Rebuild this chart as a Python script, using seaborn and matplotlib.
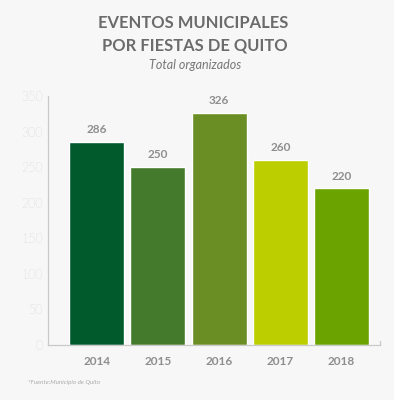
import pandas as pd
import seaborn as sns
import matplotlib.pyplot as plt

# datos
years = ["2014", "2015", "2016", "2017", "2018"]
events = [286, 250, 326, 260, 220]
colors = ["#015a2c", "#447a2b", "#6a8e23", "#bdce00", "#6ba300"]

df = pd.DataFrame({"year": years, "events": events})

sns.set_style("white")
plt.rcParams["font.family"] = ["Lato", "DejaVu Sans"]

bg = "#f7f7f7"
fig = plt.figure(figsize=(3.94, 4.0), dpi=100, facecolor=bg)
ax = fig.add_axes([0.123, 0.1375, 0.8415, 0.6225])
ax.set_facecolor(bg)

sns.barplot(data=df, x="year", y="events", hue="year", palette=colors,
            width=0.9, legend=False, saturation=1, ax=ax)

for c in ax.containers:
    ax.bar_label(c, padding=5, fontsize=8.5, fontweight="bold", color="#8e8e8e")

ax.set_ylim(0, 350)
ax.set_xlim(-0.79, 4.63)
ax.set_yticks(range(0, 351, 50))
ax.set_xlabel("")
ax.set_ylabel("")

for s in ["top", "right"]:
    ax.spines[s].set_visible(False)
for s in ["left", "bottom"]:
    ax.spines[s].set_color("#c9c9c9")
    ax.spines[s].set_linewidth(0.9)

ax.tick_params(axis="y", direction="in", length=6.5, width=0.9, color="#c9c9c9",
               labelcolor="#b3b3b3", labelsize=9, pad=4)
ax.tick_params(axis="x", length=0, labelcolor="#8e8e8e", labelsize=8.5, pad=8)
for lbl in ax.get_xticklabels():
    lbl.set_fontweight("bold")
for lbl in ax.get_yticklabels():
    lbl.set_fontweight("light")

# pequeña marca al final del eje x
ax.axvline(4.63, ymin=0, ymax=0.018, color="#c9c9c9", lw=0.9, clip_on=False)

fig.text(0.49, 0.943, "EVENTOS MUNICIPALES", ha="center", va="center",
         fontsize=11.9, fontweight="bold", color="#6b6b6b")
fig.text(0.495, 0.886, "POR FIESTAS DE QUITO", ha="center", va="center",
         fontsize=11.9, fontweight="bold", color="#6b6b6b")
fig.text(0.495, 0.838, "Total organizados", ha="center", va="center",
         fontsize=9, style="italic", color="#777777")
fig.text(0.072, 0.043, "*Fuente:Municipio de Quito", ha="left", va="center",
         fontsize=4.5, style="italic", color="#ababab")

fig.savefig("out.png", dpi=100, facecolor=bg)
